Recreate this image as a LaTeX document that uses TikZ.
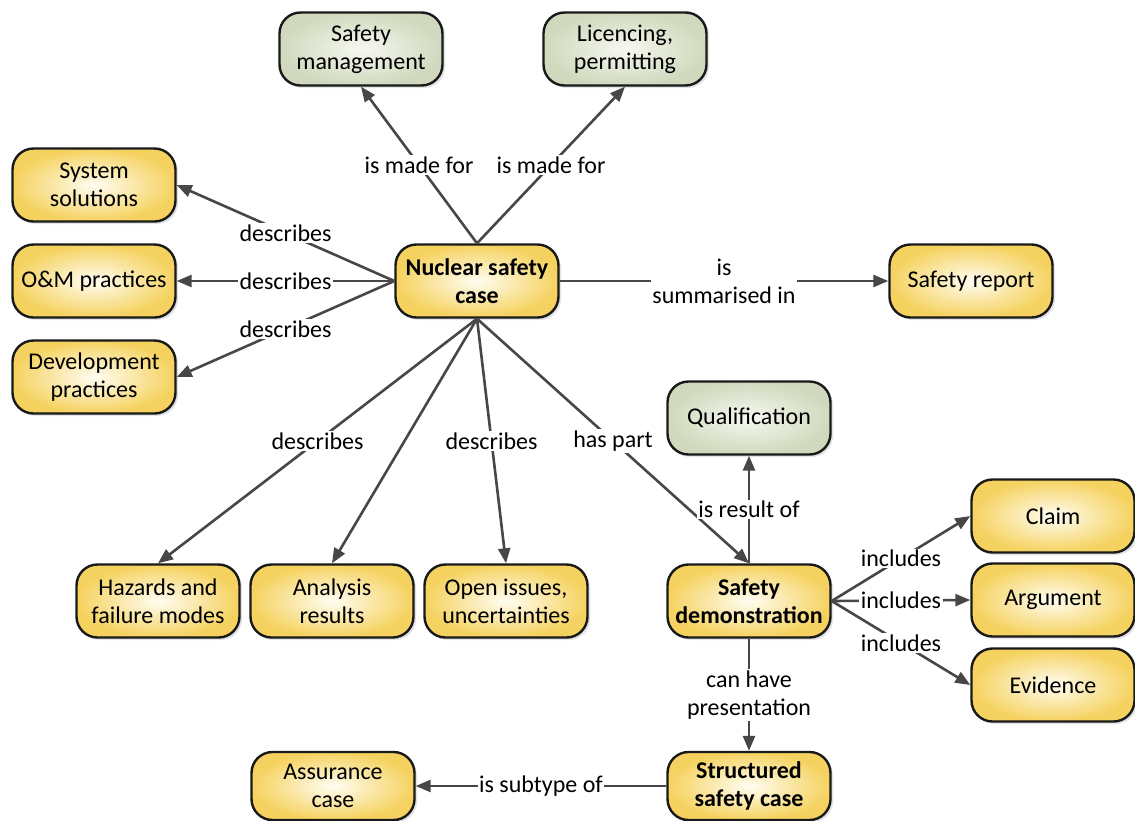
\documentclass[tikz,border=0pt]{standalone}
\usepackage{fontspec}
\setmainfont{Carlito}
\usetikzlibrary{arrows.meta,shadows}
\definecolor{yellowin}{HTML}{FFFDF2}
\definecolor{yellowout}{HTML}{F5D25F}
\definecolor{greenin}{HTML}{F6F8F1}
\definecolor{greenout}{HTML}{D0D9BD}
\definecolor{linegray}{HTML}{474747}
\begin{document}
\begin{tikzpicture}[x=1pt,y=-1pt,
  box/.style={draw=black!90, line width=2.4pt, rounded corners=21pt,
    minimum width=163pt, minimum height=73pt, align=center, inner sep=2pt,
    font=\fontsize{24}{28}\selectfont,
    drop shadow={opacity=0.22, shadow xshift=2.5pt, shadow yshift=-2.5pt}},
  ybox/.style={box, inner color=yellowin, outer color=yellowout},
  gbox/.style={box, inner color=greenin, outer color=greenout},
  bbox/.style={ybox, font=\fontsize{24}{28}\selectfont\bfseries},
  conn/.style={draw=linegray, line width=2.6pt, -{Triangle[length=15pt,width=12pt]}},
  lbl/.style={fill=white, inner sep=1.5pt, align=center,
    font=\fontsize{24}{28}\selectfont, text=black}
]
\fill[white] (0,0) rectangle (1135,820);
\useasboundingbox (0,0) rectangle (1135,820);

% concepts
\node[gbox] (sm)    at (361,49)  {Safety\\management};
\node[gbox] (lic)   at (625,49)  {Licencing,\\permitting};
\node[ybox] (sys)   at (94,185)  {System\\solutions};
\node[ybox] (om)    at (94,281)  {O\&M practices};
\node[ybox] (dev)   at (94,377)  {Development\\practices};
\node[bbox] (nsc)   at (477,281) {Nuclear safety\\case};
\node[ybox] (rep)   at (971,281) {Safety report};
\node[gbox] (qual)  at (749,418) {Qualification};
\node[ybox] (haz)   at (158,601) {Hazards and\\failure modes};
\node[ybox] (ana)   at (332,601) {Analysis\\results};
\node[ybox] (open)  at (506,601) {Open issues,\\uncertainties};
\node[bbox] (sd)    at (749,601) {Safety\\demonstration};
\node[ybox] (claim) at (1053,516) {Claim};
\node[ybox] (arg)   at (1053,600) {Argument};
\node[ybox] (evid)  at (1053,685) {Evidence};
\node[bbox, minimum height=68pt] (ssc) at (749,786) {Structured\\safety case};
\node[ybox, minimum height=68pt] (ass) at (333,786) {Assurance\\case};

% relations
\draw[conn] (nsc.north) -- node[lbl] {is made for} (sm.south);
\draw[conn] (nsc.north) -- node[lbl] {is made for} (lic.south);
\draw[conn] (nsc.west) -- node[lbl] {describes} (sys.east);
\draw[conn] (nsc.west) -- node[lbl] {describes} (om.east);
\draw[conn] (nsc.west) -- node[lbl] {describes} (dev.east);
\draw[conn] (nsc.east) -- node[lbl] {is\\summarised in} (rep.west);
\draw[conn] (nsc.south) -- node[lbl] {describes} (haz.north);
\draw[conn] (nsc.south) -- (ana.north);
\draw[conn] (nsc.south) -- node[lbl] {describes} (open.north);
\draw[conn] (nsc.south) -- node[lbl] {has part} (sd.north);
\draw[conn] (sd.north) -- node[lbl] {is result of} (qual.south);
\draw[conn] (sd.east) -- node[lbl] {includes} (claim.west);
\draw[conn] (sd.east) -- node[lbl] {includes} (arg.west);
\draw[conn] (sd.east) -- node[lbl] {includes} (evid.west);
\draw[conn] (sd.south) -- node[lbl] {can have\\presentation} (ssc.north);
\draw[conn] (ssc.west) -- node[lbl] {is subtype of} (ass.east);
\end{tikzpicture}
\end{document}
